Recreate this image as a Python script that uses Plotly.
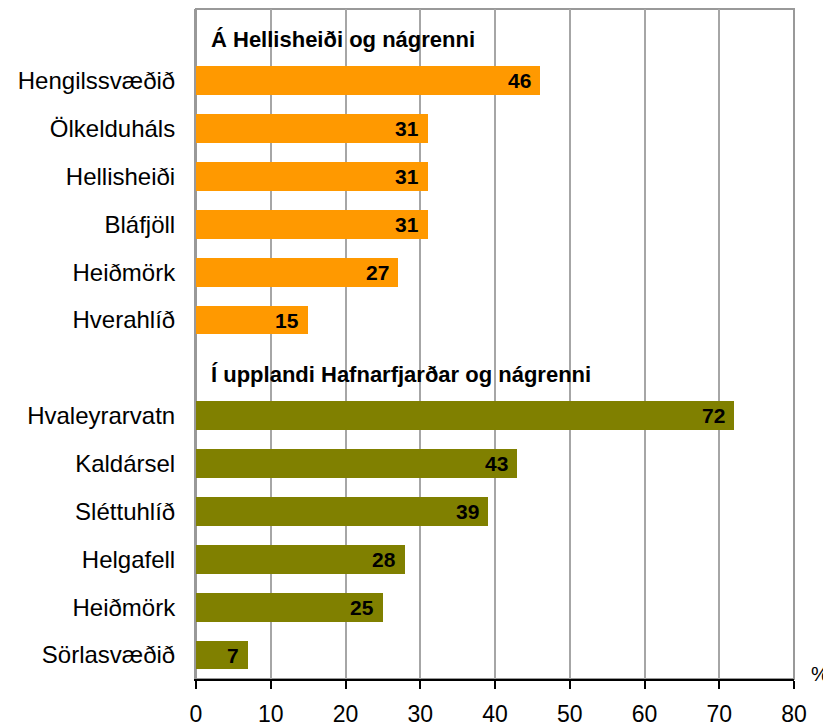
import plotly.graph_objects as go

group1_title = "Á Hellisheiði og nágrenni"
group1_labels = ["Hengilssvæðið", "Ölkelduháls", "Hellisheiði", "Bláfjöll", "Heiðmörk", "Hverahlíð"]
group1_values = [46, 31, 31, 31, 27, 15]

group2_title = "Í upplandi Hafnarfjarðar og nágrenni"
group2_labels = ["Hvaleyrarvatn", "Kaldársel", "Sléttuhlíð", "Helgafell", "Heiðmörk", "Sörlasvæðið"]
group2_values = [72, 43, 39, 28, 25, 7]

x_ticks = [0, 10, 20, 30, 40, 50, 60, 70, 80]

ORANGE = "#FF9900"
OLIVE = "#808000"
GRID = "#A6A6A6"
FONT = "Liberation Sans, Arial, sans-serif"

# slot positions: header, then bars
h1 = 0
pos1 = [h1 + 1 + i for i in range(len(group1_labels))]
h2 = pos1[-1] + 1
pos2 = [h2 + 1 + i for i in range(len(group2_labels))]

fig = go.Figure()
fig.add_trace(go.Bar(x=group1_values, y=pos1, orientation="h", marker_color=ORANGE,
                     marker_line_width=0, width=0.6, showlegend=False, hoverinfo="skip"))
fig.add_trace(go.Bar(x=group2_values, y=pos2, orientation="h", marker_color=OLIVE,
                     marker_line_width=0, width=0.6, showlegend=False, hoverinfo="skip"))

annotations = []
for vals, poss in ((group1_values, pos1), (group2_values, pos2)):
    for v, p in zip(vals, poss):
        annotations.append(dict(x=v, y=p, xref="x", yref="y", text=f"<b>{v}</b>",
                                showarrow=False, xanchor="right", yanchor="middle",
                                xshift=-7, font=dict(family=FONT, size=21, color="black")))
for title, p in ((group1_title, h1), (group2_title, h2)):
    annotations.append(dict(x=0, y=p, xref="x", yref="y", text=f"<b>{title}</b>",
                            showarrow=False, xanchor="left", yanchor="middle",
                            xshift=13, yshift=-7, font=dict(family=FONT, size=22, color="black")))
annotations.append(dict(x=1, y=0, xref="paper", yref="paper", text="%", showarrow=False,
                        xanchor="left", yanchor="middle", xshift=15, yshift=5,
                        font=dict(family=FONT, size=20, color="black")))

# the page adds an 8px body margin, so the figure is sized/offset to compensate
fig.update_layout(
    width=823, height=719,
    margin=dict(l=188, r=37, t=1, b=48),
    paper_bgcolor="white", plot_bgcolor="white",
    bargap=0,
    font=dict(family=FONT, color="black"),
    annotations=annotations,
    shapes=[dict(type="rect", xref="paper", yref="paper", x0=0, x1=1, y0=0, y1=1,
                 line=dict(color="#999999", width=2), layer="below")],
    xaxis=dict(range=[0, 80], tickvals=x_ticks, ticktext=[str(t) for t in x_ticks],
               showgrid=True, gridcolor=GRID, gridwidth=1.5, zeroline=False,
               showline=True, linecolor="black", linewidth=1.5,
               ticks="outside", ticklen=8, tickcolor="black", tickwidth=1.5,
               tickfont=dict(family=FONT, size=23, color="black"), ticklabelstandoff=6,
               automargin=False),
    yaxis=dict(range=[pos2[-1] + 0.5, h1 - 0.5],
               tickvals=pos1 + pos2, ticktext=group1_labels + group2_labels,
               showgrid=False, zeroline=False, showline=True, linecolor="#999999", linewidth=2,
               ticks="", tickfont=dict(family=FONT, size=24, color="black"),
               ticklabelstandoff=14, automargin=False),
)

fig.write_html("out.html")
